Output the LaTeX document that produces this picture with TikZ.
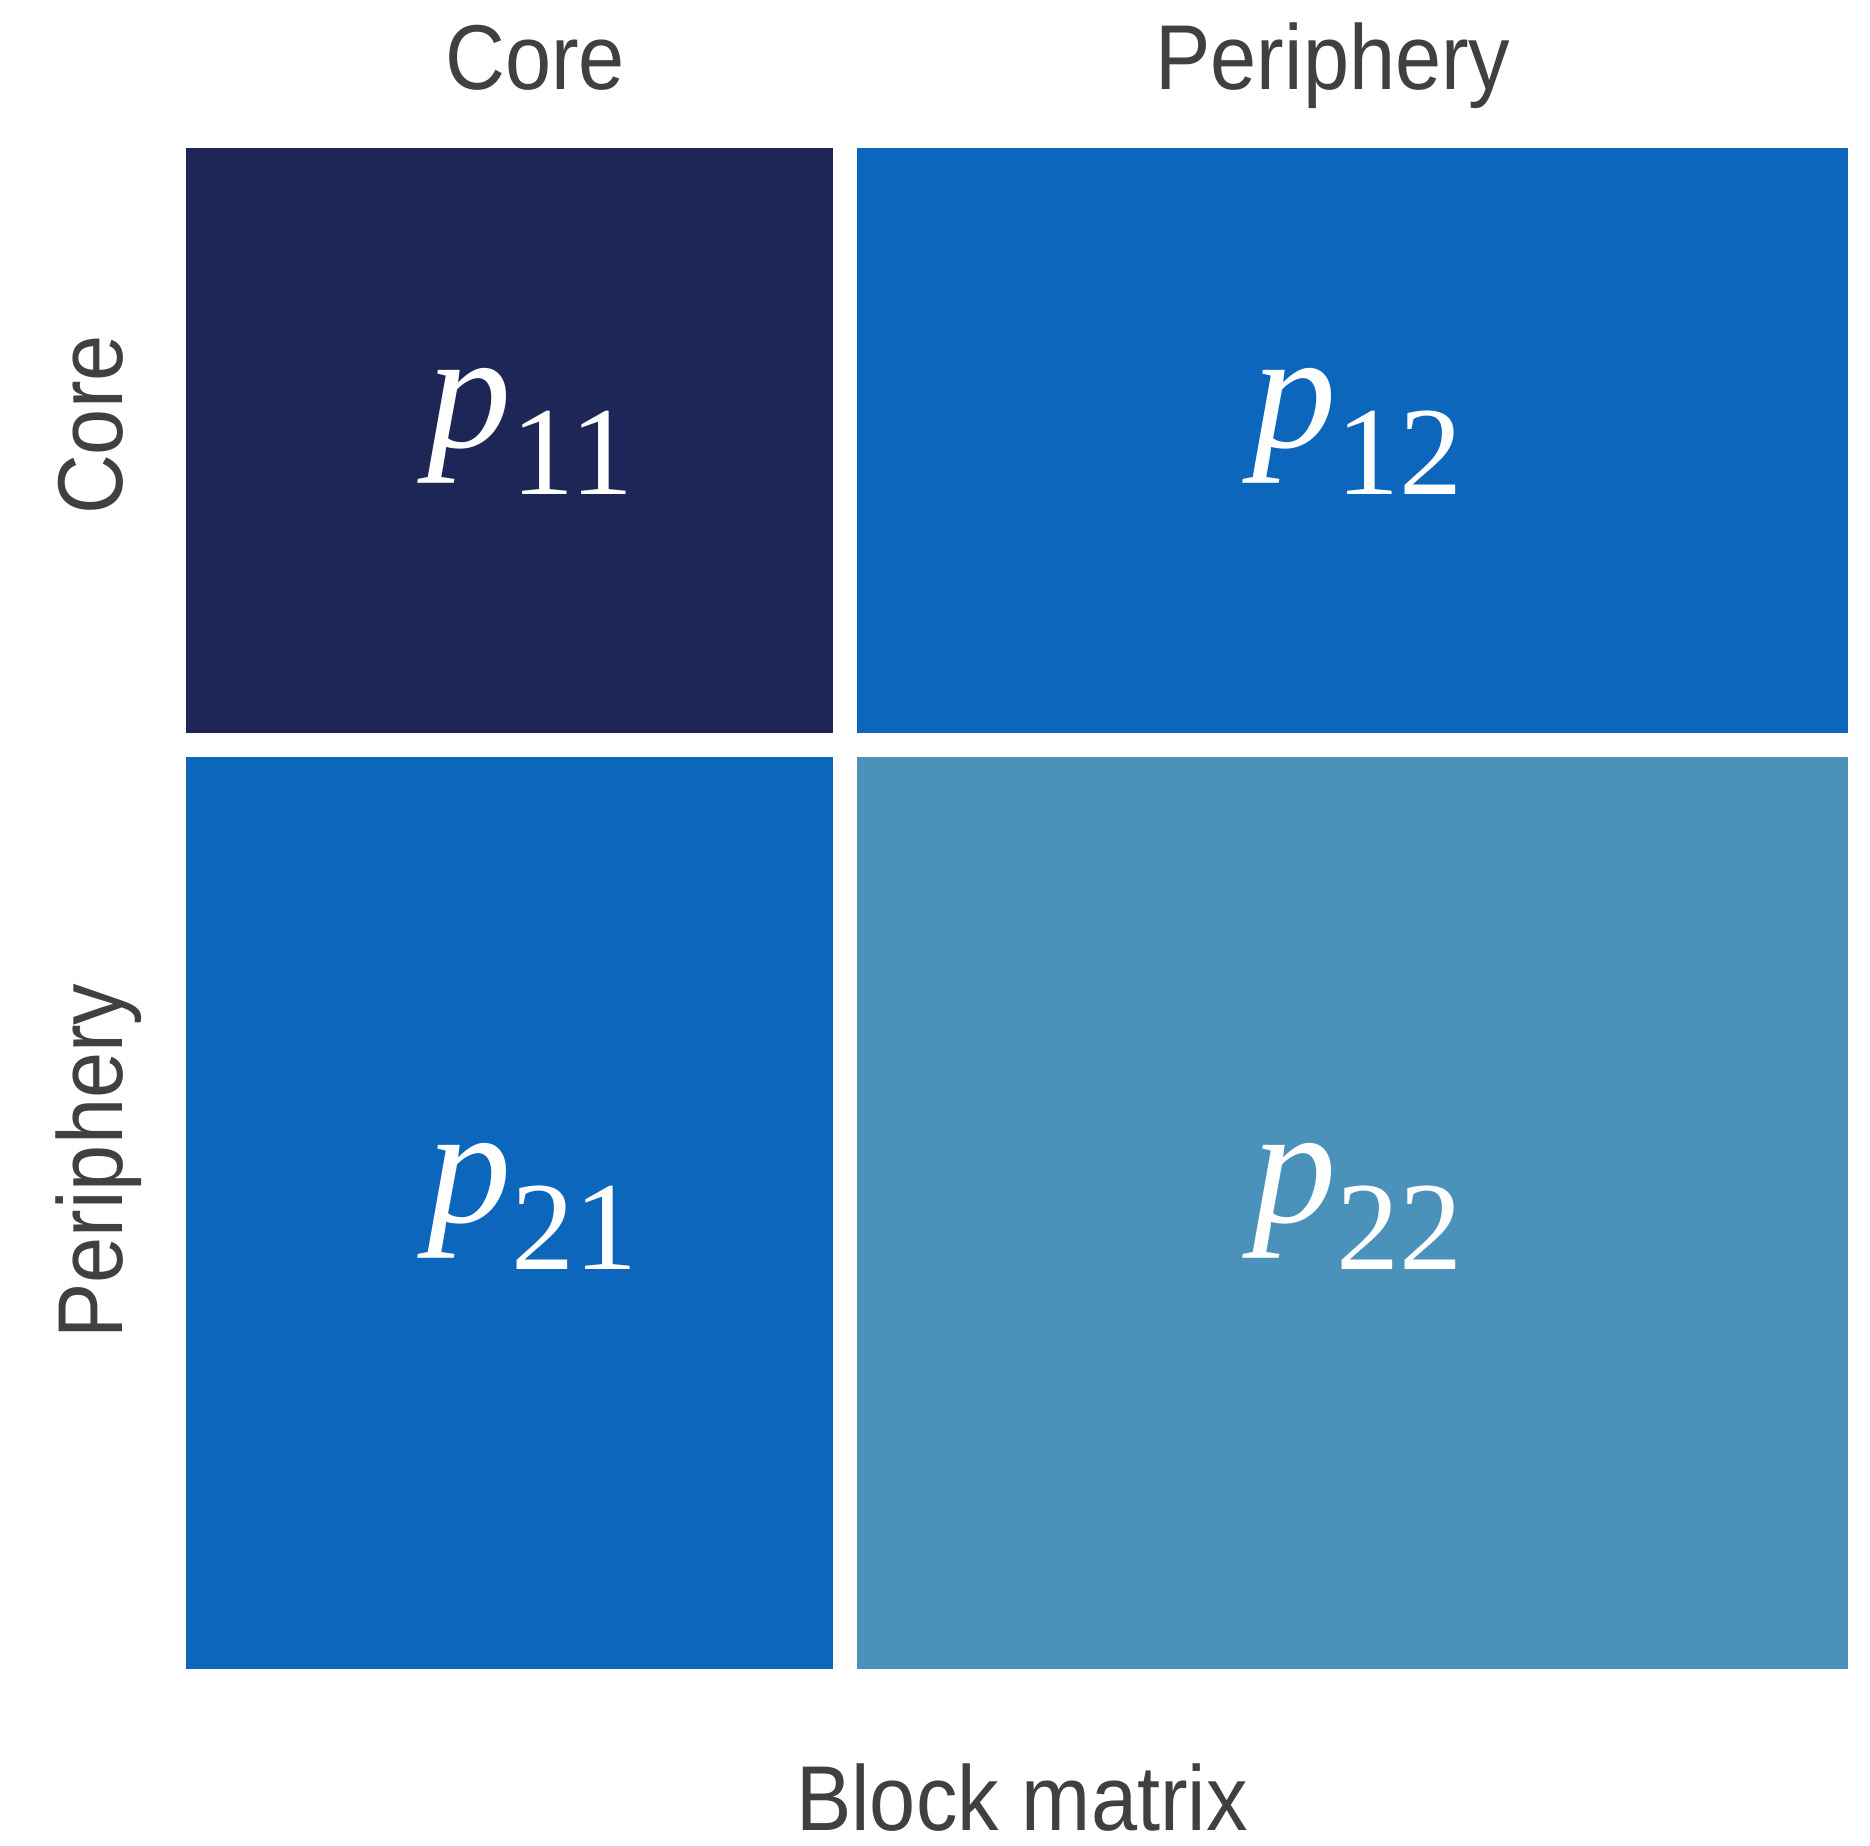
\documentclass[tikz,border=0pt]{standalone}
\usepackage{fontspec}
\setmainfont{Liberation Serif}
\newfontfamily\axisfont[FakeStretch=0.9]{Liberation Sans}
\definecolor{blkdark}{HTML}{1E2657}
\definecolor{blkmid}{HTML}{0C66BC}
\definecolor{blklight}{HTML}{4A92BA}
\definecolor{axistext}{HTML}{404040}
% block probability label: italic p with a lowered subscript
\newcommand{\plab}[1]{{\fontsize{47.8}{50}\selectfont\itshape p}\raisebox{-13.4pt}{\fontsize{35.9}{38}\selectfont #1}}
\tikzset{
  axislab/.style={inner sep=0pt, text=axistext, font=\axisfont\fontsize{26.2}{28}\selectfont, anchor=base},
  problab/.style={inner sep=0pt, text=white, anchor=base west},
}
\begin{document}
\begin{tikzpicture}[x=0.01cm, y=-0.01cm]
\useasboundingbox (0,0) rectangle (1870,1845);
% the four blocks
\fill[blkdark]  (186,148) rectangle (833,733);
\fill[blkmid]   (857,148) rectangle (1848,733);
\fill[blkmid]   (186,757) rectangle (833,1669);
\fill[blklight] (857,757) rectangle (1848,1669);
% block labels
\node[problab] (p11) at (427,447)  {\plab{11}};
\node[problab] (p12) at (1252,447) {\plab{12}};
\node[problab] (p21) at (427,1222) {\plab{21}};
\node[problab] (p22) at (1252,1222) {\plab{22}};
% column headings
\node[axislab] (colcore) at (535,89)  {Core};
\node[axislab] (colper)  at (1333,89) {Periphery};
% row headings
\node[axislab, rotate=90] (rowcore) at (122.5,425)  {Core};
\node[axislab, rotate=90] (rowper)  at (122.5,1161) {Periphery};
% caption
\node[axislab] (caption) at (1022,1830) {Block matrix};
\end{tikzpicture}
\end{document}
